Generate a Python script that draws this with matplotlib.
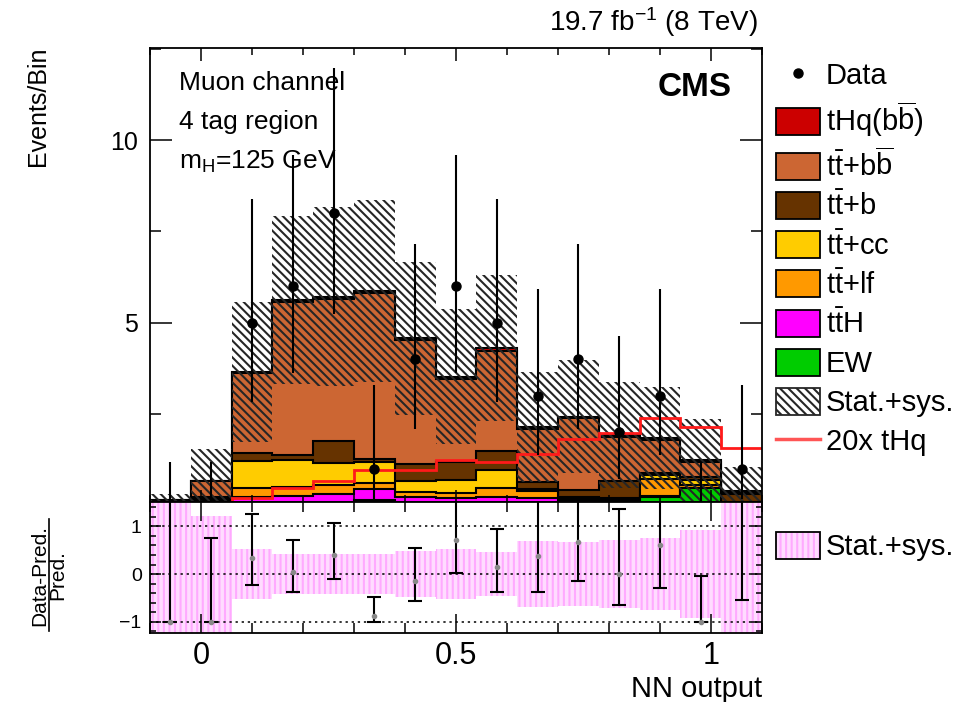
import numpy as np
import matplotlib
matplotlib.use('Agg')
import matplotlib.pyplot as plt
from matplotlib.patches import Patch
from matplotlib.lines import Line2D
from matplotlib.legend_handler import HandlerTuple
from matplotlib.ticker import MultipleLocator, FixedLocator

plt.rcParams['font.family'] = ['Liberation Sans', 'DejaVu Sans']
plt.rcParams['mathtext.fontset'] = 'custom'
plt.rcParams['mathtext.rm'] = 'Liberation Sans'
plt.rcParams['mathtext.it'] = 'Liberation Sans:italic'
plt.rcParams['mathtext.bf'] = 'Liberation Sans:bold'
plt.rcParams['hatch.linewidth'] = 1.5

# binning of the NN output
edges = np.round(np.arange(16) * 0.08 - 0.1, 2)
centers = 0.5 * (edges[:-1] + edges[1:])

# stacked predictions (bottom -> top)
ew    = [0.00, 0.00, 0.00, 0.00, 0.00, 0.15, 0.00, 0.00, 0.00, 0.00, 0.00, 0.00, 0.24, 0.47, 0.02]
tth   = [0.01, 0.05, 0.24, 0.27, 0.30, 0.30, 0.22, 0.20, 0.22, 0.20, 0.15, 0.12, 0.02, 0.01, 0.01]
ttlf  = [0.02, 0.09, 0.23, 0.23, 0.25, 0.17, 0.15, 0.13, 0.26, 0.18, 0.05, 0.06, 0.45, 0.07, 0.02]
ttcc  = [0.02, 0.06, 0.75, 0.75, 0.60, 0.56, 0.31, 0.37, 0.49, 0.06, 0.03, 0.02, 0.12, 0.15, 0.03]
ttb   = [0.01, 0.03, 0.21, 0.13, 0.62, 0.09, 0.45, 0.50, 0.53, 0.19, 0.19, 0.46, 0.05, 0.09, 0.22]
ttbb  = [0.08, 0.43, 2.19, 4.19, 3.89, 4.55, 3.39, 2.25, 2.72, 1.47, 1.96, 1.20, 0.90, 0.41, 0.04]
thq   = [0.01, 0.02, 0.04, 0.05, 0.05, 0.05, 0.05, 0.07, 0.08, 0.05, 0.05, 0.06, 0.06, 0.05, 0.04]
unc   = [0.17, 0.87, 1.92, 2.30, 2.45, 2.50, 2.10, 1.85, 2.00, 1.50, 1.55, 1.45, 1.40, 1.12, 0.68]
thq20 = [0.02, 0.05, 0.19, 0.47, 0.66, 0.97, 0.97, 1.25, 1.20, 1.40, 1.82, 1.97, 2.38, 2.15, 1.58]

# data with error bar ends
data    = np.array([0, 0, 5, 6, 8, 1, 4, 6, 5, 3, 4, 2, 3, 0, 1])
data_lo = np.array([0, 0, 2.84, 3.62, 5.23, 0.17, 2.09, 3.62, 2.84, 1.37, 2.09, 0.71, 1.37, 0, 0.17])
data_hi = np.array([1.2, 1.2, 8.38, 9.58, 11.98, 3.30, 7.16, 9.58, 8.38, 5.92, 7.16, 4.64, 5.92, 1.2, 3.30])

# ratio panel
r_val  = np.array([-1, -1, 0.34, 0.05, 0.40, -0.88, -0.15, 0.71, 0.14, 0.38, 0.68, 0.0, 0.62, -1.0, 1.63])
r_lo   = np.array([-1, -1, -0.24, -0.37, -0.11, -1.01, -0.57, 0.03, -0.37, -0.37, -0.15, -0.65, -0.29, -1.0, -0.55])
r_hi   = np.array([7, 0.76, 1.26, 0.71, 1.08, -0.48, 0.54, 2.0, 0.94, 2.0, 2.0, 1.37, 2.0, -0.05, 7])
r_band = np.array([2.0, 1.23, 0.52, 0.42, 0.42, 0.42, 0.49, 0.52, 0.47, 0.69, 0.67, 0.72, 0.75, 0.92, 2.0])

names = ['EW', r't$\bar{\mathrm{t}}$H', r't$\bar{\mathrm{t}}$+lf', r't$\bar{\mathrm{t}}$+cc',
         r't$\bar{\mathrm{t}}$+b', r't$\bar{\mathrm{t}}$+b$\overline{\mathrm{b}}$',
         r'tHq(b$\overline{\mathrm{b}}$)']
colors = ['#00cc00', '#ff00ff', '#ff9900', '#ffcc00', '#663300', '#cc6633', '#cc0000']
comps = [ew, tth, ttlf, ttcc, ttb, ttbb, thq]

fig = plt.figure(figsize=(9.76, 7.02), dpi=100)
ax = fig.add_axes([0.1537, 0.2853, 0.627, 0.6463])
rax = fig.add_axes([0.1537, 0.0983, 0.627, 0.187], sharex=ax)

cum = np.cumsum(np.array(comps), axis=0)
total = cum[-1]
for k in range(len(comps) - 1, -1, -1):
    ax.stairs(cum[k], edges, baseline=0, fill=True, facecolor=colors[k],
              edgecolor='black', lw=1.5)

unc = np.array(unc)
ax.bar(centers, 2 * unc, bottom=total - unc, width=0.08, fill=False,
       hatch='\\\\\\\\', edgecolor='#262626', lw=0)

ax.stairs(thq20, edges, baseline=None, color='#ff1a1a', lw=2)

ax.errorbar(centers, data, yerr=[data - data_lo, data_hi - data], fmt='none',
            ecolor='black', elinewidth=1.5)
m = data > 0
ax.plot(centers[m], data[m], 'o', color='black', ms=6.5)

ax.set_xlim(-0.1, 1.1)
ax.set_ylim(0.1, 12.52)
ax.yaxis.set_major_locator(FixedLocator([5, 10]))
ax.yaxis.set_minor_locator(MultipleLocator(2.5))
ax.xaxis.set_major_locator(FixedLocator([0, 0.5, 1]))
ax.xaxis.set_minor_locator(MultipleLocator(0.1))
ax.tick_params(which='both', direction='in', top=True, right=True, labelbottom=False, width=1.1)
ax.tick_params(axis='y', which='major', length=16, labelsize=18, pad=9)
ax.tick_params(axis='y', which='minor', length=8)
ax.tick_params(axis='x', which='major', length=9)
ax.tick_params(axis='x', which='minor', length=5)
for s in ax.spines.values():
    s.set_linewidth(1.3)

# ratio panel
rax.bar(centers, 2 * r_band, bottom=-r_band, width=0.08, facecolor='#ffdcff',
        hatch='|||', edgecolor='#ffaaff', lw=0)
for yv in (-1, 0, 1):
    rax.axhline(yv, color='black', ls=(0, (1.5, 2.5)), lw=1.1)
rax.errorbar(centers, r_val, yerr=[r_val - r_lo, r_hi - r_val], fmt='o', ms=3,
             color='#888888', mec='#888888', ecolor='black', elinewidth=1.5,
             capsize=5, capthick=1.5)
rax.set_ylim(-1.24, 1.52)
rax.yaxis.set_major_locator(FixedLocator([-1, 0, 1]))
rax.yaxis.set_minor_locator(MultipleLocator(0.2))
rax.tick_params(which='both', direction='in', top=True, right=True, width=1.1)
rax.tick_params(axis='y', which='major', length=8, labelsize=14, pad=6)
rax.tick_params(axis='y', which='minor', length=4)
rax.tick_params(axis='x', which='major', length=14, labelsize=22, pad=6)
rax.tick_params(axis='x', which='minor', length=7)
rax.set_xticklabels(['0', '0.5', '1'])
for s in rax.spines.values():
    s.set_linewidth(1.3)

# texts
fig.text(38 / 976, 1 - 46 / 702, 'Events/Bin', rotation=90, ha='center', va='top', fontsize=18)
fig.text(762 / 976, 1 - 697 / 702, 'NN output', ha='right', va='baseline', fontsize=21)
fig.text(40 / 976, 1 - 575 / 702, 'Data-Pred.', rotation=90, ha='center', va='center', fontsize=15)
fig.text(58 / 976, 1 - 575 / 702, 'Pred.', rotation=90, ha='center', va='center', fontsize=15)
fig.add_artist(Line2D([49 / 976, 49 / 976], [1 - 631 / 702, 1 - 519 / 702], color='black', lw=1.2))
fig.text(758 / 976, 1 - 22 / 702, r'19.7 fb$^{-1}$ (8 TeV)', ha='right', va='center', fontsize=20)
ax.text(0.951, 0.912, 'CMS', transform=ax.transAxes, ha='right', va='center',
        fontsize=24, fontweight='bold')
ax.text(0.048, 0.923, 'Muon channel', transform=ax.transAxes, ha='left', va='center', fontsize=19)
ax.text(0.048, 0.836, '4 tag region', transform=ax.transAxes, ha='left', va='center', fontsize=19)
ax.text(0.048, 0.75, r'm$_\mathrm{H}$=125 GeV', transform=ax.transAxes, ha='left', va='center', fontsize=19)

# legends
handles = [Line2D([], [], marker='o', color='black', ls='none', ms=6.5)]
labels = ['Data']
for k in range(len(comps) - 1, -1, -1):
    handles.append(Patch(facecolor=colors[k], edgecolor='black', lw=1.3))
    labels.append(names[k])
handles.append(Patch(facecolor='white', edgecolor='#262626', hatch='\\\\\\\\', lw=1.3))
labels.append('Stat.+sys.')
handles.append(Line2D([], [], color='#ff5555', lw=2.5))
labels.append('20x tHq')
fig.legend(handles, labels, loc='upper left', bbox_to_anchor=(776 / 976, 1 - 61 / 702),
           frameon=False, fontsize=21, handlelength=1.5, handleheight=1.05,
           handletextpad=0.2, labelspacing=0.33, borderpad=0, borderaxespad=0)

pink = (Patch(facecolor='#ffdcff', edgecolor='#ffaaff', hatch='|||', lw=0),
        Patch(facecolor='none', edgecolor='black', lw=1.3))
fig.legend([pink], ['Stat.+sys.'], handler_map={tuple: HandlerTuple(ndivide=1, pad=0)},
           loc='upper left', bbox_to_anchor=(776 / 976, 1 - 532 / 702),
           frameon=False, fontsize=21, handlelength=1.5, handleheight=1.05,
           handletextpad=0.2, borderpad=0, borderaxespad=0)

fig.savefig('out.png', dpi=100)
